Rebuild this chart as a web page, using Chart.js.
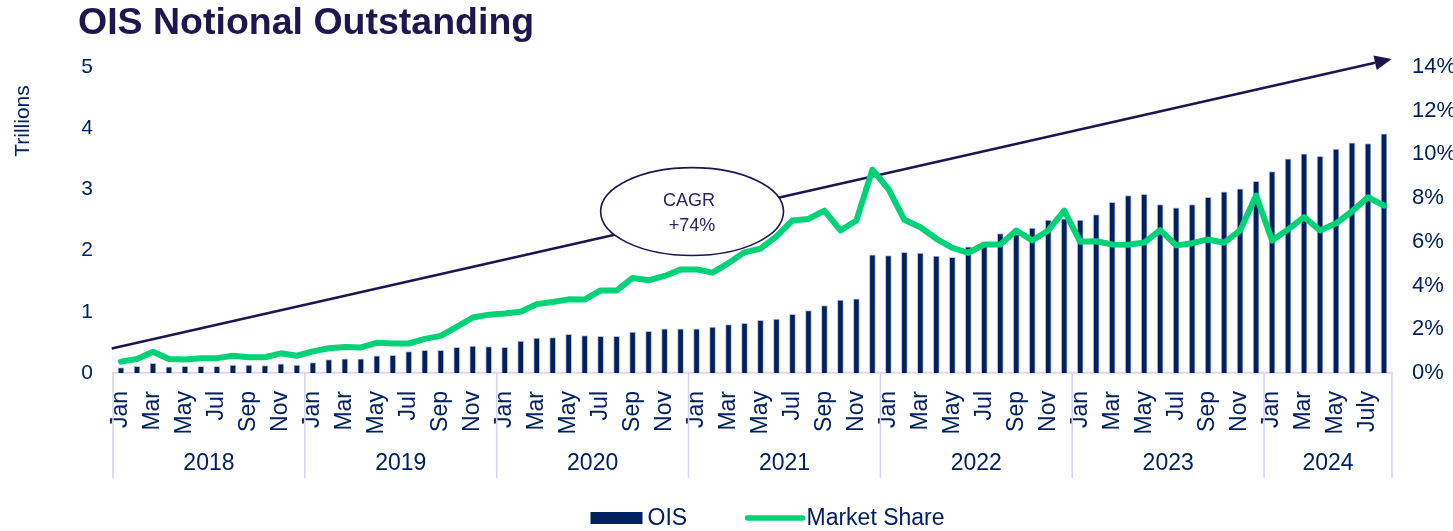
<!DOCTYPE html>
<html><head><meta charset="utf-8">
<script src="https://cdn.jsdelivr.net/npm/chart.js@4.4.1/dist/chart.umd.min.js"></script>
<style>html,body{margin:0;padding:0;background:#fff;overflow:hidden}</style>
</head><body>
<canvas id="c" width="1453" height="531"></canvas>
<script>
// ---------- data ----------
const years = ['2018','2019','2020','2021','2022','2023','2024'];
const monthsPerYear = [12,12,12,12,12,12,8];
const monthNames = ['Jan','Feb','Mar','Apr','May','Jun','Jul','Aug','Sep','Oct','Nov','Dec'];
const months = [];
years.forEach((yr,i)=>{ for(let m=0;m<monthsPerYear[i];m++){ months.push(yr==='2024'&&m===6?'July':monthNames[m]); } });

const oisTrillions = [
  0.09,0.11,0.16,0.10,0.11,0.11,0.11,0.13,0.13,0.12,0.15,0.13,
  0.17,0.22,0.23,0.23,0.28,0.29,0.35,0.37,0.37,0.42,0.44,0.43,
  0.42,0.52,0.57,0.58,0.63,0.61,0.60,0.60,0.67,0.68,0.72,0.72,
  0.72,0.75,0.79,0.81,0.86,0.88,0.96,1.02,1.10,1.19,1.21,1.93,
  1.92,1.97,1.96,1.91,1.89,2.06,2.14,2.28,2.26,2.37,2.50,2.52,
  2.50,2.59,2.79,2.90,2.92,2.75,2.70,2.75,2.87,2.96,3.01,3.13,
  3.29,3.50,3.58,3.54,3.66,3.76,3.75,3.91
];
const marketSharePct = [
  0.52,0.64,0.97,0.64,0.62,0.68,0.68,0.79,0.72,0.72,0.90,0.79,
  0.99,1.13,1.19,1.17,1.38,1.35,1.35,1.56,1.70,2.11,2.54,2.67,
  2.72,2.80,3.15,3.25,3.37,3.36,3.78,3.77,4.35,4.24,4.44,4.73,
  4.74,4.59,5.03,5.52,5.69,6.25,6.98,7.05,7.43,6.52,6.98,9.30,
  8.42,7.01,6.67,6.14,5.73,5.50,5.88,5.88,6.52,6.06,6.52,7.43,
  6.00,6.03,5.88,5.87,5.97,6.54,5.84,5.94,6.11,5.96,6.52,8.12,
  6.06,6.57,7.13,6.52,6.85,7.40,8.04,7.66
];
const leftTickValues = [0,1,2,3,4,5];
const rightTickValues = [0,2,4,6,8,10,12,14];
const titleText = 'OIS Notional Outstanding';
const leftAxisTitle = 'Trillions';
const cagrText = ['CAGR','+74%'];
// trend arrow and CAGR bubble, in data coordinates (category index, trillions)
const trendFrom = [-0.58, 0.40];
const trendTo = [79.48, 5.13];
const cagrBubble = {xMin:30.0, xMax:41.44, yMin:1.92, yMax:3.355};
const legendItems = ['OIS','Market Share'];

// ---------- style ----------
const NAVY = '#002060';
const GREEN = '#00d278';
const INK = '#1e1450';
const LAV = '#d5d1f1';
const FONT = "'Liberation Sans', Arial, sans-serif";
Chart.defaults.font.family = FONT;

const decor = {
  id:'decor',
  beforeDatasetsDraw(chart){
    const {ctx, scales:{x, y}} = chart;
    ctx.save();
    // trend arrow
    const x0 = x.getPixelForValue(trendFrom[0]), y0 = y.getPixelForValue(trendFrom[1]);
    const x1 = x.getPixelForValue(trendTo[0]), y1 = y.getPixelForValue(trendTo[1]);
    const ang = Math.atan2(y1-y0, x1-x0);
    const headLen = 17, headW = 7.5;
    const bx = x1 - headLen*Math.cos(ang), by = y1 - headLen*Math.sin(ang);
    ctx.strokeStyle = INK; ctx.lineWidth = 2.4;
    ctx.beginPath(); ctx.moveTo(x0,y0); ctx.lineTo(bx,by); ctx.stroke();
    ctx.fillStyle = INK;
    ctx.beginPath();
    ctx.moveTo(x1,y1);
    ctx.lineTo(bx + headW*Math.sin(ang), by - headW*Math.cos(ang));
    ctx.lineTo(bx - headW*Math.sin(ang), by + headW*Math.cos(ang));
    ctx.closePath(); ctx.fill();
    // CAGR bubble
    const ex0 = x.getPixelForValue(cagrBubble.xMin), ex1 = x.getPixelForValue(cagrBubble.xMax);
    const ey0 = y.getPixelForValue(cagrBubble.yMax), ey1 = y.getPixelForValue(cagrBubble.yMin);
    const cx = (ex0+ex1)/2, cy = (ey0+ey1)/2;
    ctx.beginPath(); ctx.ellipse(cx, cy, (ex1-ex0)/2, (ey1-ey0)/2, 0, 0, Math.PI*2);
    ctx.fillStyle = '#ffffff'; ctx.fill();
    ctx.lineWidth = 1.6; ctx.strokeStyle = INK; ctx.stroke();
    ctx.fillStyle = '#2a2462';
    ctx.font = '18px ' + FONT; ctx.textAlign = 'center'; ctx.textBaseline = 'middle';
    ctx.fillText(cagrText[0], cx-3, cy-11);
    ctx.fillText(cagrText[1], cx, cy+14);
    ctx.restore();
  },
  afterDraw(chart){
    const {ctx, scales:{x, y}} = chart;
    ctx.save();
    // title
    ctx.fillStyle = '#1f1650';
    ctx.font = 'bold 37.5px ' + FONT; ctx.textAlign = 'left'; ctx.textBaseline = 'alphabetic';
    ctx.fillText(titleText, 78, 34);
    // left axis title
    ctx.save();
    ctx.translate(23, 121); ctx.rotate(-Math.PI/2);
    ctx.fillStyle = NAVY; ctx.font = '21px ' + FONT; ctx.textAlign = 'center'; ctx.textBaseline = 'middle';
    ctx.fillText(leftAxisTitle, 0, 0);
    ctx.restore();
    // year groups
    const top = y.bottom, bot = 478;
    ctx.strokeStyle = LAV; ctx.lineWidth = 1.5;
    ctx.fillStyle = NAVY; ctx.font = '23px ' + FONT; ctx.textAlign = 'center'; ctx.textBaseline = 'middle';
    let start = 0;
    years.forEach((yr,i)=>{
      const end = start + monthsPerYear[i];
      const xs = x.getPixelForValue(start-0.5), xe = x.getPixelForValue(end-0.5);
      ctx.beginPath(); ctx.moveTo(xs, top); ctx.lineTo(xs, bot); ctx.stroke();
      if (i === years.length-1){ ctx.beginPath(); ctx.moveTo(xe, top); ctx.lineTo(xe, bot); ctx.stroke(); }
      ctx.fillText(yr, (xs+xe)/2, 464);
      start = end;
    });
    // legend
    const lx = (chart.width)/2 - 136, ly = 518;
    ctx.fillStyle = NAVY; ctx.fillRect(lx, ly-6, 52, 12);
    ctx.font = '23px ' + FONT; ctx.textAlign = 'left'; ctx.textBaseline = 'middle';
    ctx.fillText(legendItems[0], lx+57, ly+1);
    ctx.strokeStyle = GREEN; ctx.lineWidth = 5.5; ctx.lineCap = 'round';
    ctx.beginPath(); ctx.moveTo(lx+157, ly); ctx.lineTo(lx+212, ly); ctx.stroke();
    ctx.fillText(legendItems[1], lx+216, ly+1);
    ctx.restore();
  }
};

new Chart(document.getElementById('c'), {
  data: {
    labels: months,
    datasets: [
      { type:'line', label:legendItems[1], data:marketSharePct, yAxisID:'yR',
        borderColor:GREEN, borderWidth:6, pointRadius:0, tension:0, order:0,
        borderJoinStyle:'round', borderCapStyle:'round' },
      { type:'bar', label:legendItems[0], data:oisTrillions, yAxisID:'y',
        backgroundColor:NAVY, borderColor:'#b9c0de', borderWidth:{left:1,right:1,top:1,bottom:0},
        barThickness:6, order:1 }
    ]
  },
  options: {
    responsive:false, animation:false, devicePixelRatio:1,
    layout:{ padding:{ top:67, bottom:0, left:0, right:0 } },
    plugins:{ legend:{display:false}, tooltip:{enabled:false}, title:{display:false} },
    scales:{
      x:{ type:'category', offset:true,
        grid:{display:false, drawTicks:false},
        border:{display:true, color:LAV, width:1.5},
        ticks:{ autoSkip:false, minRotation:90, maxRotation:90, padding:18, color:NAVY,
          font:{size:23}, callback:(v,i)=> i%2===0 ? months[i] : '' },
        afterFit:(s)=>{ s.height = 158; }
      },
      y:{ position:'left', min:0, max:5,
        grid:{display:false, drawTicks:false}, border:{display:false},
        ticks:{ color:NAVY, font:{size:21}, padding:20,
          callback:(v)=> leftTickValues.includes(v) ? String(v) : '' , stepSize:1 },
        afterFit:(s)=>{ s.width = 113; }
      },
      yR:{ position:'right', min:0, max:14,
        grid:{display:false, drawTicks:false}, border:{display:false},
        ticks:{ color:NAVY, font:{size:22}, padding:20, stepSize:2,
          callback:(v)=> rightTickValues.includes(v) ? v + '%' : '' },
        afterFit:(s)=>{ s.width = 61; }
      }
    }
  },
  plugins:[decor]
});
</script>
</body></html>
